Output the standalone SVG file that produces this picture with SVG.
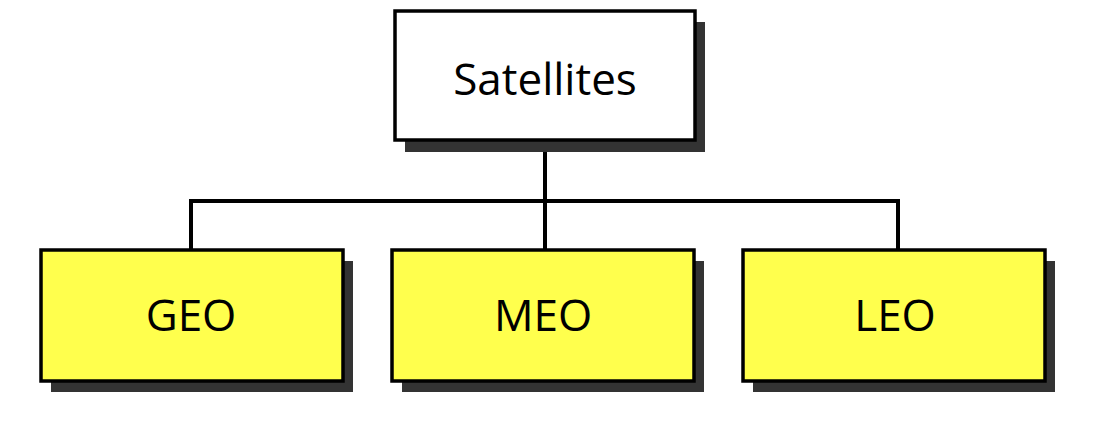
<svg xmlns="http://www.w3.org/2000/svg" width="1101" height="421" viewBox="0 0 1101 421">
<style>
.shadow{fill:#333333}
.box{stroke:#000;stroke-width:3.5}
.top{fill:#ffffff}
.leaf{fill:#ffff4d}
.lbl{font-family:"Open Sans","Noto Sans",sans-serif;font-size:44px;fill:#000;text-anchor:middle}
.conn{fill:none;stroke:#000;stroke-width:4}
</style>
<rect width="1101" height="421" fill="#fff"/>
<g id="connectors">
<path class="conn" d="M545 140 V250 M191 250 V201 H898 V250"/>
</g>
<g id="satellites">
<rect class="shadow" x="405" y="22" width="300" height="130"/>
<rect class="box top" x="395" y="11" width="300" height="129"/>
<text class="lbl" x="545" y="95">Satellites</text>
</g>
<g id="geo">
<rect class="shadow" x="51" y="261" width="302" height="131"/>
<rect class="box leaf" x="41" y="250" width="302" height="131"/>
<text class="lbl" x="191" y="331">GEO</text>
</g>
<g id="meo">
<rect class="shadow" x="402" y="261" width="302" height="131"/>
<rect class="box leaf" x="392" y="250" width="302" height="131"/>
<text class="lbl" x="543" y="331">MEO</text>
</g>
<g id="leo">
<rect class="shadow" x="753" y="261" width="302" height="131"/>
<rect class="box leaf" x="743" y="250" width="302" height="131"/>
<text class="lbl" x="895" y="331">LEO</text>
</g>
</svg>
